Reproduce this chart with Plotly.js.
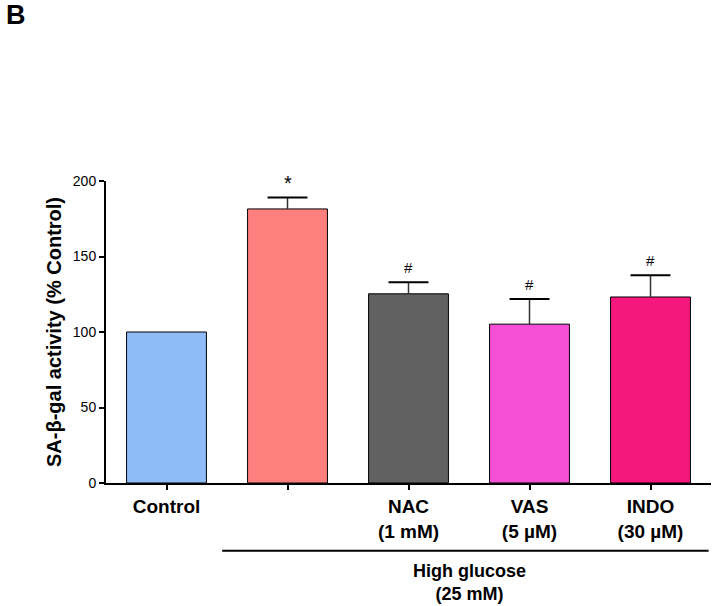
<!DOCTYPE html>
<html>
<head>
<meta charset="utf-8">
<script src="https://cdn.plot.ly/plotly-3.0.1.min.js"></script>
<style>html,body{margin:0;padding:0;background:#fff}#chart{width:712px;height:606px}</style>
</head>
<body>
<div id="chart"></div>
<script>
// ---- data ----
const categories = ["Control", "High glucose", "NAC", "VAS", "INDO"];
const tickLabels = ["<b>Control</b>", "", "<b>NAC</b><br><b>(1 mM)</b>", "<b>VAS</b><br><b>(5 µM)</b>", "<b>INDO</b><br><b>(30 µM)</b>"];
const values = [100, 181.5, 125.3, 105.2, 123.2];
const errors = [0, 7.6, 7.6, 16.7, 14.4];
const marks = ["", "*", "#", "#", "#"];
const barColors = ["#8fbcf9", "#ff7f7f", "#616161", "#f54fd6", "#f6177c"];
const groupLabel = "<b>High glucose</b><br><b>(25 mM)</b>";
const groupFirst = 1, groupLast = 4;

const xs = categories.map((c, i) => i);
const font = "Arial, 'Liberation Sans', sans-serif";
const capHalf = 0.165;

const barTrace = {
  type: "bar", x: xs, y: values, width: 0.66,
  marker: {color: barColors, line: {color: "#000", width: 1}},
  hoverinfo: "none"
};

// upward-only error bars built from the data arrays
const stemX = [], stemY = [], capX = [], capY = [];
xs.forEach((x, i) => {
  if (errors[i] > 0) {
    const top = values[i] + errors[i];
    stemX.push(x, x, null); stemY.push(values[i], top, null);
    capX.push(x - capHalf, x + capHalf, null); capY.push(top, top, null);
  }
});
const stemTrace = {type: "scatter", mode: "lines", x: stemX, y: stemY,
  line: {color: "#333", width: 1.5}, hoverinfo: "none", cliponaxis: false};
const capTrace = {type: "scatter", mode: "lines", x: capX, y: capY,
  line: {color: "#000", width: 2}, hoverinfo: "none", cliponaxis: false};

const annotations = [];
marks.forEach((m, i) => {
  if (!m) return;
  annotations.push({
    x: xs[i], y: values[i] + errors[i], xref: "x", yref: "y",
    text: m, showarrow: false, yanchor: "bottom", yshift: m === "*" ? 1 : 4,
    font: {family: font, size: m === "*" ? 20 : 15, color: "#000"}
  });
});
annotations.push({
  x: (groupFirst + groupLast) / 2, y: -0.25, xref: "x", yref: "paper",
  text: groupLabel, showarrow: false, yanchor: "top",
  font: {family: font, size: 18, color: "#000"}
});
annotations.push({
  x: -0.149, y: 1.55, xref: "paper", yref: "paper", xanchor: "center", yanchor: "middle",
  text: "<b>B</b>", showarrow: false,
  font: {family: font, size: 27, color: "#000"}
});

const layout = {
  width: 712, height: 606,
  margin: {l: 106, r: 1, t: 181, b: 123},
  paper_bgcolor: "#fff", plot_bgcolor: "#fff",
  showlegend: false,
  xaxis: {
    range: [-0.5, 4.5], tickvals: xs, ticktext: tickLabels,
    showline: true, linecolor: "#000", linewidth: 2,
    ticks: "outside", ticklen: 5, tickwidth: 2, tickcolor: "#000",
    showgrid: false, zeroline: false, fixedrange: true,
    tickfont: {family: font, size: 19, color: "#000"}
  },
  yaxis: {
    range: [0, 200], tickvals: [0, 50, 100, 150, 200],
    showline: true, linecolor: "#000", linewidth: 2,
    ticks: "outside", ticklen: 5, tickwidth: 2, tickcolor: "#000",
    showgrid: false, zeroline: false, fixedrange: true,
    tickfont: {family: font, size: 14, color: "#000"},
    title: {text: "<b>SA-β-gal activity (% Control)</b>", standoff: 6,
            font: {family: font, size: 20, color: "#000"}}
  },
  shapes: [{
    type: "line", xref: "x", yref: "paper",
    x0: groupFirst - 0.54, x1: groupLast + 0.48, y0: -0.224, y1: -0.224,
    line: {color: "#000", width: 2}
  }],
  annotations: annotations
};

Plotly.newPlot("chart", [barTrace, stemTrace, capTrace], layout, {staticPlot: true, displayModeBar: false});
</script>
</body>
</html>
